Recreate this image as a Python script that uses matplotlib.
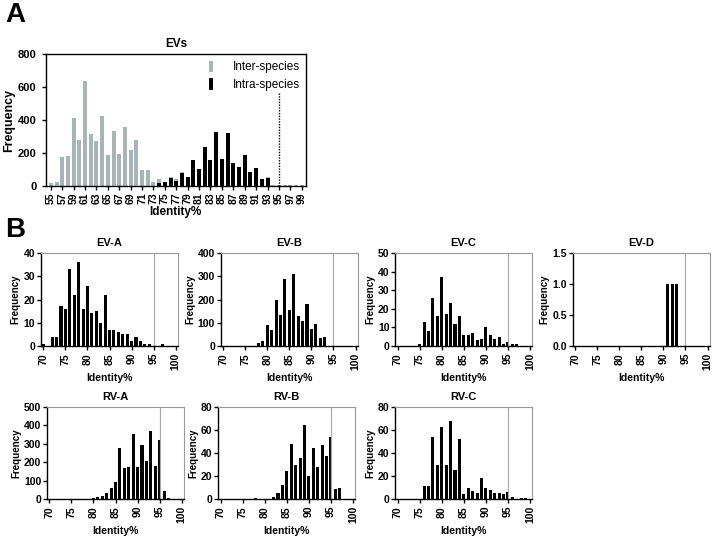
import matplotlib
matplotlib.use('Agg')
import matplotlib.pyplot as plt

plt.rcParams['font.family'] = ['Liberation Sans', 'DejaVu Sans']
plt.rcParams['font.weight'] = 'bold'
plt.rcParams['axes.labelweight'] = 'bold'
plt.rcParams['axes.titleweight'] = 'bold'

# ---- Panel A : EVs, inter- vs intra-species identity ----
ev_ident = list(range(55, 100))
inter_species = [15, 25, 175, 180, 410, 280, 635, 315, 270, 425, 185, 335, 190, 360, 215, 280,
                 95, 95, 25, 38, 10, 55, 40, 85, 10, 5, 3, 2, 2, 2, 2, 2, 2, 2, 2, 2, 2,
                 2, 50, 5, 5, 5, 2, 5, 2]
intra_species = [0, 0, 0, 0, 0, 0, 0, 0, 0, 0, 0, 0, 0, 0, 0, 0,
                 0, 0, 0, 15, 20, 45, 30, 78, 50, 155, 100, 235, 155, 325, 165, 320,
                 140, 115, 185, 85, 105, 40, 45, 0, 0, 0, 0, 0, 0]
a_ticks = list(range(55, 100, 2))

# ---- Panel B : per species ----
ev_a_x = [70, 72, 73, 74, 75, 76, 77, 78, 79, 80, 81, 82, 83, 84, 85, 86, 87, 88, 89, 90, 91, 92, 93, 94, 97]
ev_a_y = [1, 4, 4, 17, 16, 33, 22, 36, 16, 26, 14, 15, 10, 22, 7, 7, 6, 5, 5, 2, 4, 2, 1, 1, 1]

ev_b_x = [78, 79, 80, 81, 82, 83, 84, 85, 86, 87, 88, 89, 90, 91, 92, 93]
ev_b_y = [15, 20, 90, 70, 200, 135, 290, 155, 310, 130, 108, 180, 75, 95, 36, 40]

ev_c_x = [75, 76, 77, 78, 79, 80, 81, 82, 83, 84, 85, 86, 87, 88, 89, 90, 91, 92, 93, 94, 95, 96, 97]
ev_c_y = [1, 13, 8, 26, 16, 37, 17, 23, 12, 16, 6, 6, 7, 3, 4, 10, 6, 4, 5, 1, 2, 1, 1]

ev_d_x = [91, 92, 93]
ev_d_y = [1, 1, 1]

rv_a_x = [80, 81, 82, 83, 84, 85, 86, 87, 88, 89, 90, 91, 92, 93, 94, 95, 96, 97]
rv_a_y = [8, 12, 18, 30, 60, 95, 277, 170, 175, 354, 175, 295, 205, 368, 180, 319, 45, 8]

rv_b_x = [78, 82, 83, 84, 85, 86, 87, 88, 89, 90, 91, 92, 93, 94, 95, 96, 97]
rv_b_y = [1, 2, 5, 12, 24, 48, 30, 36, 64, 20, 44, 28, 47, 37, 54, 9, 10]

rv_c_x = [76, 77, 78, 79, 80, 81, 82, 83, 84, 85, 86, 87, 88, 89, 90, 91, 92, 93, 94, 95, 96, 98, 99]
rv_c_y = [11, 11, 54, 30, 63, 30, 68, 25, 52, 4, 10, 7, 5, 18, 10, 8, 5, 5, 4, 6, 2, 1, 1]

b_ticks = [70, 75, 80, 85, 90, 95, 100]

panels = [
    ('EV-A', ev_a_x, ev_a_y, [0, 10, 20, 30, 40], ['0', '10', '20', '30', '40'], 40),
    ('EV-B', ev_b_x, ev_b_y, [0, 100, 200, 300, 400], ['0', '100', '200', '300', '400'], 400),
    ('EV-C', ev_c_x, ev_c_y, [0, 10, 20, 30, 40, 50], ['0', '10', '20', '30', '40', '50'], 50),
    ('EV-D', ev_d_x, ev_d_y, [0, 0.5, 1.0, 1.5], ['0.0', '0.5', '1.0', '1.5'], 1.5),
    ('RV-A', rv_a_x, rv_a_y, [0, 100, 200, 300, 400, 500], ['0', '100', '200', '300', '400', '500'], 500),
    ('RV-B', rv_b_x, rv_b_y, [0, 20, 40, 60, 80], ['0', '20', '40', '60', '80'], 80),
    ('RV-C', rv_c_x, rv_c_y, [0, 20, 40, 60, 80], ['0', '20', '40', '60', '80'], 80),
]

W, H = 717, 536
def box(left, top, right, bottom):
    return [left / W, 1 - bottom / H, (right - left) / W, (bottom - top) / H]

fig = plt.figure(figsize=(7.17, 5.36), dpi=100)

gray = '#a7b4b8'

# Panel A
ax = fig.add_axes(box(45.7, 54.3, 306, 185.7))
ax.bar(ev_ident, inter_species, width=0.7, color=gray, label='Inter-species')
ax.bar(ev_ident, intra_species, width=0.7, color='black', label='Intra-species')
ax.vlines(95, 0, 565, colors='black', linestyles=(0, (1, 1)), linewidth=1)
ax.set_xlim(54.1, 99.75)
ax.set_ylim(0, 800)
ax.set_yticks([0, 200, 400, 600, 800])
ax.set_xticks(a_ticks)
ax.set_xticklabels([str(t) for t in a_ticks], rotation=90, fontsize=7.5)
ax.tick_params(axis='y', labelsize=8, length=3, width=1)
ax.tick_params(axis='x', length=3, width=1, pad=2)
for s in ax.spines.values():
    s.set_linewidth(1)
ax.set_title('EVs', fontsize=8.5, pad=5)
ax.set_ylabel('Frequency', fontsize=9, labelpad=2)
ax.set_xlabel('Identity%', fontsize=8.5, labelpad=1)
ax.legend(loc='upper right', frameon=False, handlelength=0.4, handleheight=1.1,
          handletextpad=1.6, labelspacing=0.4, borderaxespad=0.15,
          prop={'weight': 'normal', 'size': 8.5})

fig.text(5 / W, 1 - 15 / H, 'A', fontsize=20, fontweight='bold', va='center', ha='left')
fig.text(5 / W, 1 - 230 / H, 'B', fontsize=20, fontweight='bold', va='center', ha='left')

row1_lefts = [40.7, 220.5, 395, 572.5]
row2_lefts = [46.7, 218, 395]
positions = [(l, 253, l + 137, 346) for l in row1_lefts] + [(l, 407, l + 137, 499) for l in row2_lefts]

for (name, xs, ys, yt, ytl, ymax), pos in zip(panels, positions):
    ax = fig.add_axes(box(*pos))
    ax.bar(xs, ys, width=0.7, color='black')
    ax.axvline(95, color='#aaaaaa', linewidth=0.9)
    ax.set_xlim(69.4, 100.45)
    ax.set_ylim(0, ymax)
    ax.set_yticks(yt)
    ax.set_yticklabels(ytl)
    ax.set_xticks(b_ticks)
    ax.set_xticklabels([str(t) for t in b_ticks], rotation=90, fontsize=7.5)
    ax.tick_params(axis='y', labelsize=7.5, length=3, width=1, pad=1)
    ax.tick_params(axis='x', length=3, width=1, pad=2)
    ax.spines['left'].set_linewidth(1)
    ax.spines['bottom'].set_linewidth(1)
    ax.spines['top'].set_color('#999999')
    ax.spines['right'].set_color('#999999')
    ax.set_title(name, fontsize=8, pad=5)
    ax.set_ylabel('Frequency', fontsize=7, labelpad=2)
    ax.set_xlabel('Identity%', fontsize=7.5, labelpad=2)

fig.savefig('out.png', dpi=100)
